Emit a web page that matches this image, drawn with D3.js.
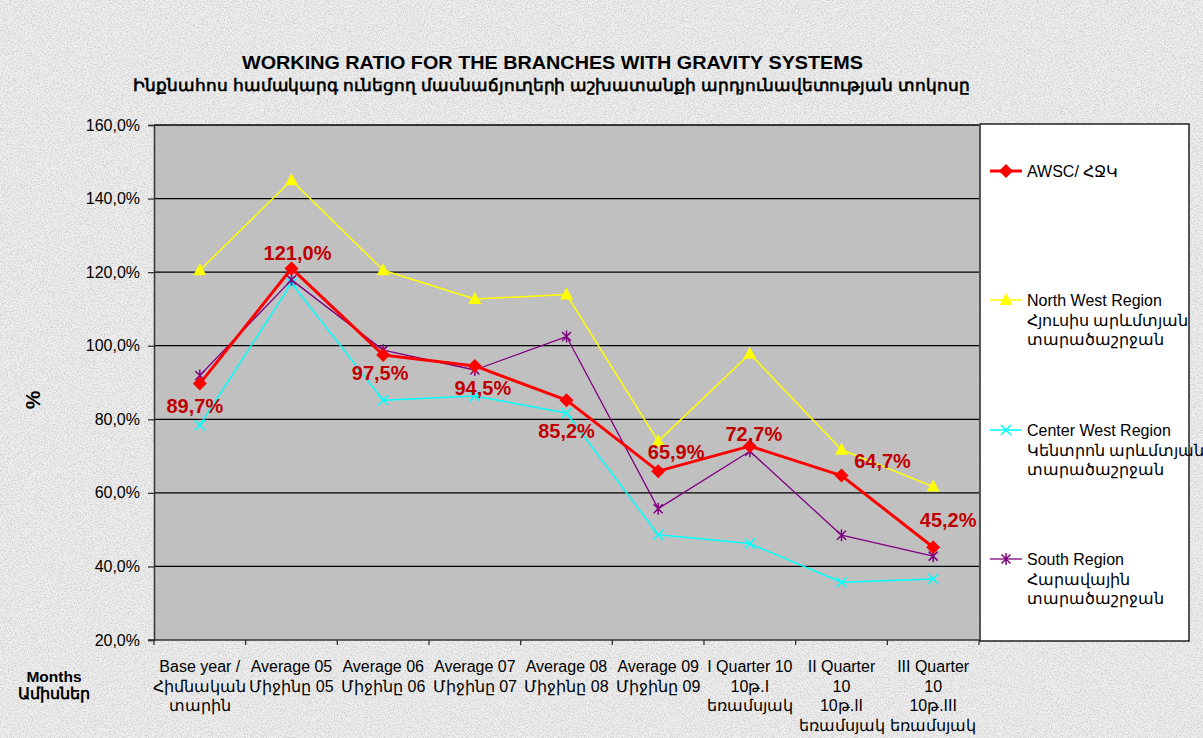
<!DOCTYPE html>
<html lang="en">
<head>
<meta charset="UTF-8">
<title>Working ratio for the branches with gravity systems</title>
<script src="https://cdnjs.cloudflare.com/ajax/libs/d3/7.8.5/d3.min.js"></script>
<style>
  html, body { margin: 0; padding: 0; background: #e8e8e8; }
  svg text { font-family: "Liberation Sans", Arial, sans-serif; }
</style>
</head>
<body>
<div id="chart"></div>
<script>
// categories (english / armenian lines)
const categories = [
  ["Base year /", "Հիմնական", "տարին"],
  ["Average 05", "Միջինը 05"],
  ["Average 06", "Միջինը 06"],
  ["Average 07", "Միջինը 07"],
  ["Average 08", "Միջինը 08"],
  ["Average 09", "Միջինը 09"],
  ["I Quarter  10", "10թ.I", "եռամսյակ"],
  ["II Quarter", "10", "10թ.II", "եռամսյակ"],
  ["III Quarter", "10", "10թ.III", "եռամսյակ"]
];

const awsc      = [89.7, 121.0, 97.5, 94.5, 85.2, 65.9, 72.7, 64.7, 45.2];
const northWest = [120.5, 145.0, 120.5, 112.7, 113.9, 74.0, 97.8, 71.7, 61.7];
const centerWest= [78.4, 117.0, 85.2, 86.3, 81.7, 48.6, 46.2, 35.7, 36.6];
const south     = [91.9, 117.9, 98.8, 93.4, 102.5, 55.7, 71.3, 48.5, 42.8];

const yTicks = [20, 40, 60, 80, 100, 120, 140, 160];

const W = 1203, H = 738;
const plot = {left: 154, right: 979, top: 125, bottom: 640};

const svg = d3.select("#chart").append("svg")
  .attr("width", W).attr("height", H);

// textured paper background
const defs = svg.append("defs");
const f = defs.append("filter").attr("id", "paper")
  .attr("filterUnits", "userSpaceOnUse")
  .attr("x", 0).attr("y", 0).attr("width", W).attr("height", H);
f.append("feTurbulence").attr("type", "fractalNoise")
  .attr("baseFrequency", 0.7).attr("numOctaves", 3).attr("seed", 7).attr("result", "n");
f.append("feColorMatrix").attr("in", "n").attr("type", "matrix")
  .attr("values", "0 0 0 0 0.6  0 0 0 0 0.6  0 0 0 0 0.6  4 0 0 0 -1.75");

svg.append("rect").attr("width", W).attr("height", H).attr("fill", "#eeeeee");
svg.append("rect").attr("width", W).attr("height", H).attr("fill", "#fff")
  .attr("filter", "url(#paper)").attr("opacity", 0.7);

const x = d3.scaleBand().domain(d3.range(categories.length))
  .range([plot.left, plot.right]);
const y = d3.scaleLinear().domain([20, 160]).range([plot.bottom, plot.top]);

// plot area
svg.append("rect")
  .attr("x", plot.left).attr("y", plot.top)
  .attr("width", plot.right - plot.left).attr("height", plot.bottom - plot.top)
  .attr("fill", "#c0c0c0");

// grid
svg.append("g").selectAll("line")
  .data(yTicks.filter(d => d > 20))
  .join("line")
  .attr("x1", plot.left).attr("x2", plot.right)
  .attr("y1", d => y(d)).attr("y2", d => y(d))
  .attr("stroke", "#000").attr("stroke-width", 1.3);

// y axis
const yAxis = svg.append("g")
  .attr("transform", `translate(${plot.left},0)`)
  .call(d3.axisLeft(y).tickValues(yTicks).tickSize(6)
    .tickFormat(d => d.toFixed(1).replace(".", ",") + "%"));
yAxis.select(".domain").attr("stroke", "#333").attr("stroke-width", 1.5);
yAxis.selectAll(".tick line").attr("stroke", "#333").attr("stroke-width", 1.3);
yAxis.selectAll("text").attr("font-size", 16).attr("fill", "#000")
  .attr("font-family", "Liberation Sans, Arial, sans-serif").attr("x", -14);

// x axis (ticks between categories)
const xg = svg.append("g");
xg.append("line")
  .attr("x1", plot.left - 6).attr("x2", plot.right)
  .attr("y1", plot.bottom).attr("y2", plot.bottom)
  .attr("stroke", "#333").attr("stroke-width", 1.5);
xg.selectAll("line.tk")
  .data(d3.range(categories.length + 1))
  .join("line").attr("class", "tk")
  .attr("x1", i => plot.left + i * x.bandwidth())
  .attr("x2", i => plot.left + i * x.bandwidth())
  .attr("y1", plot.bottom).attr("y2", plot.bottom + 5)
  .attr("stroke", "#333").attr("stroke-width", 1.3);

const xl = svg.append("g").selectAll("text")
  .data(categories)
  .join("text")
  .attr("text-anchor", "middle")
  .attr("font-size", 16)
  .attr("fill", "#000");
xl.each(function(lines, i) {
  d3.select(this).selectAll("tspan").data(lines).join("tspan")
    .attr("x", x(i) + x.bandwidth() / 2)
    .attr("y", (d, j) => 672 + j * 19.5)
    .text(d => d);
});

// axis titles
svg.append("text")
  .attr("x", 54).attr("y", 682).attr("text-anchor", "middle")
  .attr("font-size", 15.5).attr("font-weight", "bold").text("Months");
svg.append("text")
  .attr("x", 54).attr("y", 699).attr("text-anchor", "middle")
  .attr("font-size", 15.5).attr("font-weight", "bold").text("Ամիսներ");
svg.append("text")
  .attr("transform", "translate(40,400) rotate(-90)")
  .attr("text-anchor", "middle")
  .attr("font-size", 21).attr("font-weight", "bold").text("%");

// title
svg.append("text")
  .attr("x", 242).attr("y", 69)
  .attr("font-size", 19).attr("font-weight", "bold")
  .attr("textLength", 621).attr("lengthAdjust", "spacingAndGlyphs")
  .text("WORKING RATIO FOR THE BRANCHES WITH GRAVITY SYSTEMS");
svg.append("text")
  .attr("x", 133).attr("y", 91)
  .attr("font-size", 17).attr("font-weight", "bold")
  .attr("font-family", "DejaVu Sans, sans-serif")
  .attr("textLength", 837).attr("lengthAdjust", "spacingAndGlyphs")
  .text("Ինքնահոս համակարգ ունեցող մասնաճյուղերի աշխատանքի արդյունավետության տոկոսը");

// series
const series = [
  {name: ["AWSC/ ՀՋԿ"], values: awsc, color: "#ff0000", width: 3, marker: "diamond"},
  {name: ["North West Region", "Հյուսիս արևմտյան", "տարածաշրջան"], values: northWest, color: "#ffff00", width: 1.5, marker: "triangle"},
  {name: ["Center West Region", "Կենտրոն արևմտյան", "տարածաշրջան"], values: centerWest, color: "#00ffff", width: 1.5, marker: "x"},
  {name: ["South Region", "Հարավային", "տարածաշրջան"], values: south, color: "#800080", width: 1.3, marker: "star"}
];

function drawMarker(g, type, color) {
  if (type === "diamond") {
    g.append("path").attr("d", "M0,-7L7,0L0,7L-7,0Z").attr("fill", color);
  } else if (type === "triangle") {
    g.append("path").attr("d", "M0,-7L6.5,5L-6.5,5Z").attr("fill", color);
  } else if (type === "x") {
    g.append("path").attr("d", "M-5,-5L5,5M-5,5L5,-5").attr("stroke", color).attr("stroke-width", 1.5);
  } else {
    g.append("path").attr("d", "M-4.5,-4.5L4.5,4.5M-4.5,4.5L4.5,-4.5M0,-6L0,6").attr("stroke", color).attr("stroke-width", 1.5);
  }
}

const line = d3.line().x((d, i) => x(i) + x.bandwidth() / 2).y(d => y(d));

// draw thin series first, then red on top
const order = [1, 2, 3, 0];
order.forEach(k => {
  const s = series[k];
  const g = svg.append("g");
  g.append("path").datum(s.values).attr("d", line)
    .attr("fill", "none").attr("stroke", s.color).attr("stroke-width", s.width)
    .attr("stroke-linejoin", "round");
  s.values.forEach((v, i) => {
    const m = g.append("g").attr("transform", `translate(${x(i) + x.bandwidth() / 2},${y(v)})`);
    drawMarker(m, s.marker, s.color);
  });
});

// data labels for AWSC
const labelNudge = [[-5, 22], [6, -15], [-3, 18], [8, 22], [0, 31], [18, -19], [4, -12], [41, -15], [15, -27]];
svg.append("g").selectAll("text")
  .data(awsc)
  .join("text")
  .attr("x", (d, i) => x(i) + x.bandwidth() / 2 + labelNudge[i][0])
  .attr("y", (d, i) => y(d) + labelNudge[i][1] + 7)
  .attr("text-anchor", "middle")
  .attr("font-size", 20).attr("font-weight", "bold")
  .attr("fill", "#c00000")
  .text(d => d.toFixed(1).replace(".", ",") + "%");

// legend
const lg = svg.append("g");
lg.append("rect").attr("x", 980).attr("y", 124).attr("width", 209).attr("height", 517)
  .attr("fill", "#fff").attr("stroke", "#000").attr("stroke-width", 1.3);
const legendY = [171, 300, 430, 559];
series.forEach((s, k) => {
  const ly = legendY[k];
  lg.append("line").attr("x1", 990).attr("x2", 1022).attr("y1", ly).attr("y2", ly)
    .attr("stroke", s.color).attr("stroke-width", s.width);
  const m = lg.append("g").attr("transform", `translate(1006,${ly})`);
  drawMarker(m, s.marker, s.color);
  s.name.forEach((t, j) => {
    lg.append("text").attr("x", 1027).attr("y", ly + 6 + j * 19.5)
      .attr("font-size", 16).attr("fill", "#000").text(t);
  });
});
</script>
</body>
</html>
